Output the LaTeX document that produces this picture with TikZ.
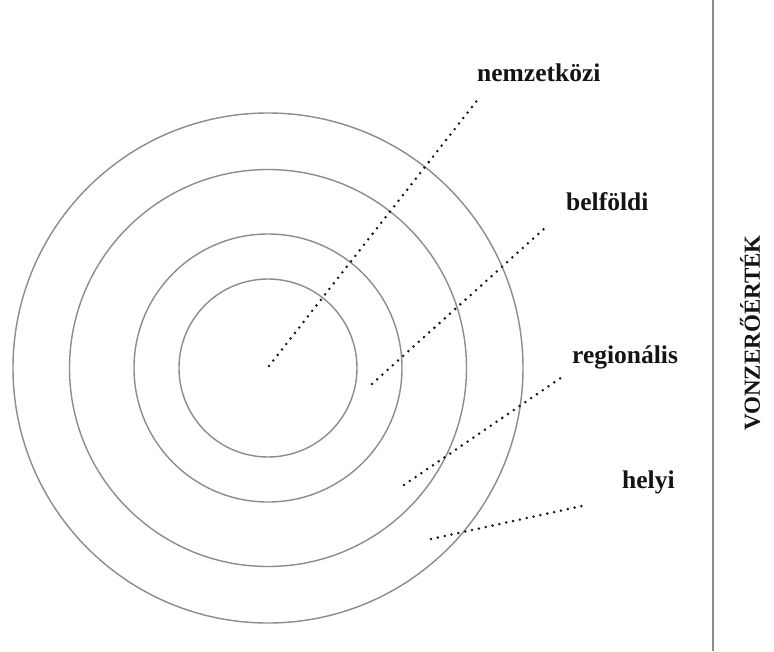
\documentclass[tikz,border=0pt]{standalone}
\usepackage{fontspec}
\setmainfont{Liberation Serif}
\usetikzlibrary{calc}
\definecolor{ringgray}{RGB}{140,140,140}
\definecolor{ink}{RGB}{20,20,20}
\tikzset{
  ring/.style={draw=ringgray,line width=1.4pt},
  pointer/.style={draw=ink,line width=2.8pt,line cap=round,dash pattern=on 0pt off 7pt},
  tag/.style={font=\fontsize{25.5}{28}\selectfont\bfseries,text=ink,inner sep=0pt,anchor=base west},
  sidetag/.style={font=\fontsize{23}{26}\selectfont\bfseries,text=ink,inner sep=0pt,rotate=90},
}

\begin{document}
\begin{tikzpicture}[x=1pt,y=-1pt]
  \useasboundingbox[fill=white] (0,0) rectangle (774,651);
  \coordinate (c) at (268,368);
  \foreach \r in {89,134,198.5,255}
    \draw[ring] (c) circle[radius=\r pt];
  % labels and their dotted pointers
  \foreach \t/\name/\x/\y/\ax/\ay/\bx/\by in {
    nemzetközi/nemz/477/81/269/366/479/98,
    belföldi/belf/566/210/372/384/546/227,
    regionális/regi/572/363/404/485/565/375,
    helyi/hely/622/488/431/539/582/506}
  {
    \node[tag] (\name) at (\x,\y) {\t};
    \coordinate (\name-in) at (\ax,\ay);
    \coordinate (\name-out) at (\bx,\by);
    \draw[pointer] (\name-in) -- (\name-out);
  }
  \draw[ring,line width=1.8pt] (713,0) -- (713,651);
  \node[sidetag] (vonz) at (750,333) {VONZERŐÉRTÉK};
\end{tikzpicture}
\end{document}
